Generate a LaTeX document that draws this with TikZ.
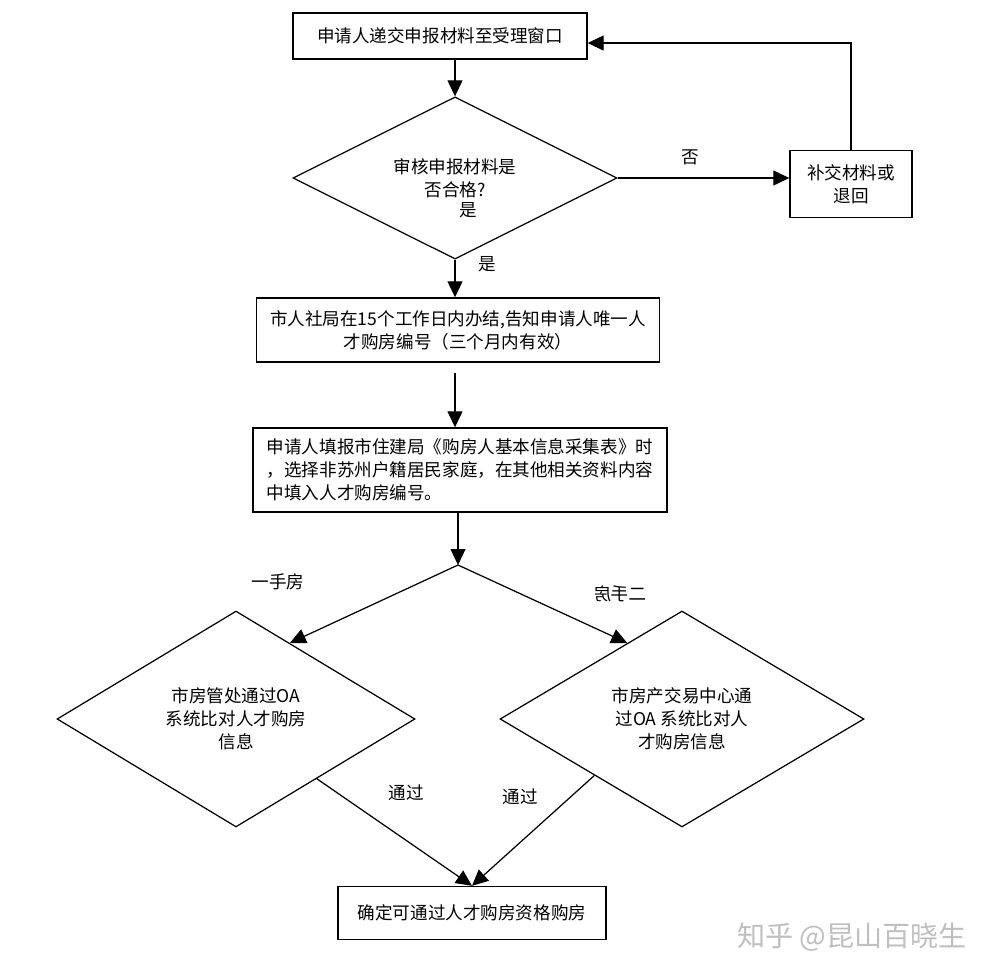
\documentclass[tikz,border=0pt]{standalone}
\usepackage{fontspec}
\setmainfont{Noto Sans CJK SC}
\usetikzlibrary{arrows.meta, positioning, shapes.geometric, calc}

\begin{document}
\begin{tikzpicture}[
    x=0.02cm, y=-0.02cm,
    every node/.style={font=\fontsize{10}{13}\selectfont},
    box/.style={rectangle, draw, line width=0.8pt, align=center, inner sep=2pt},
    decision/.style={diamond, draw, line width=0.7pt, align=center, inner sep=0pt},
    arrow/.style={-{Triangle[length=3.2mm, width=3mm]}, line width=0.7pt},
    tag/.style={font=\fontsize{10}{12}\selectfont}
]
\useasboundingbox (0,0) rectangle (1000,976);

% ============ SUBMISSION ============
\node[box, minimum width=5.88cm, minimum height=0.92cm] (submit) at (440,36) {申请人递交申报材料至受理窗口};

\node[decision, minimum width=6.48cm, minimum height=2.16cm] (check) at (455,178) {审核申报材料是\\否合格?};
\node[tag] (yesin) at (468,210) {是};

\node[box, minimum width=2.44cm, minimum height=1.34cm] (redo) at (851,184) {补交材料或\\退回};

\draw[arrow] (submit.south -| check.north) -- (check.north);
\draw[arrow] (check.east) -- (redo.west |- check.east);
\node[tag] (no) at (690,157) {否};
\draw[arrow] (redo.north) |- ([yshift=-4pt]submit.east);

% ============ NUMBER ASSIGNMENT ============
\node[box, minimum width=8.06cm, minimum height=1.28cm] (number) at (458,330) {市人社局在15个工作日内办结,告知申请人唯一人\\才购房编号（三个月内有效）};

\draw[arrow] (check.south) -- (check.south |- number.north);
\node[tag] (yes) at (487,264) {是};

\node[box, align=left, minimum width=8.28cm, minimum height=1.68cm] (info) at (460,470) {申请人填报市住建局《购房人基本信息采集表》时\\，选择非苏州户籍居民家庭，在其他相关资料内容\\中填入人才购房编号。};

\draw[arrow] ([yshift=-6pt]number.south -| check.south) -- (check.south |- info.north);

% ============ SPLIT: NEW / RESALE ============
\coordinate (split) at (458,565);
\draw[arrow] (info.south -| split) -- (split);

\node[decision, minimum width=7.16cm, minimum height=4.32cm] (first) at (236,719) {市房管处通过OA\\系统比对人才购房\\信息};
\node[decision, minimum width=7.28cm, minimum height=4.32cm] (second) at (682,719) {市房产交易中心通\\过OA 系统比对人\\才购房信息};

\draw[arrow] (split) -- ($(first.north)!0.3!(first.east)$);
\draw[arrow] (split) -- ($(second.north)!0.3!(second.west)$);

\node[tag] (new) at (278,582) {一手房};
\node[tag] (resale) at (620,594) {\reflectbox{二手房}};

% ============ RESULT ============
\node[box, minimum width=5.36cm, minimum height=1.06cm] (done) at (472,913) {确定可通过人才购房资格购房};

\draw[arrow] ($(first.east)!0.55!(first.south)$) -- (done.north);
\draw[arrow] ($(second.west)!0.52!(second.south)$) -- (done.north);

\node[tag] (pass1) at (406,793) {通过};
\node[tag] (pass2) at (520,797) {通过};

% watermark
\node[font=\fontsize{16}{18}\selectfont, text=black!25] (mark) at (852,937) {知乎 @昆山百晓生};

\end{tikzpicture}
\end{document}
